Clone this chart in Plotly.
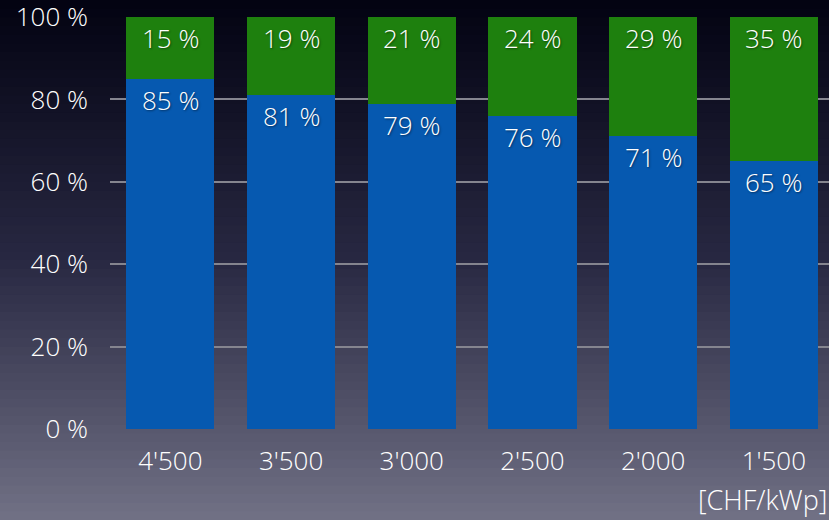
import plotly.graph_objects as go

categories = ["4'500", "3'500", "3'000", "2'500", "2'000", "1'500"]
blue_vals = [85, 81, 79, 76, 71, 65]
green_vals = [15, 19, 21, 24, 29, 35]
y_ticks = [0, 20, 40, 60, 80, 100]
y_tick_labels = ["0 %", "20 %", "40 %", "60 %", "80 %", "100 %"]

W, H = 829, 520
FONT = "Open Sans"
FS = 26
SHADOW = "1px 1px 2px rgba(0,0,0,0.45)"

fig = go.Figure()
fig.add_trace(go.Bar(
    x=categories, y=blue_vals,
    marker=dict(color="#0659b0", line=dict(width=0)),
    hoverinfo="skip",
))
fig.add_trace(go.Bar(
    x=categories, y=green_vals,
    marker=dict(color="#1e800e", line=dict(width=0)),
    hoverinfo="skip",
))

annotations = []
for cat, b, g in zip(categories, blue_vals, green_vals):
    for top, val in ((b, b), (b + g, g)):
        annotations.append(dict(
            x=cat, y=top, xref="x", yref="y", text=f"{val} %",
            showarrow=False, yanchor="middle", yshift=-21,
            font=dict(family=FONT, size=FS, color="white", weight=300,
                      shadow=SHADOW)))

# background vertical gradient built from thin bands
plot_top, plot_bot = 17, 429
ph = plot_bot - plot_top
top_c = (3, 3, 18)
mid_c = (40, 40, 66)
bot_c = (112, 112, 132)
shapes = []
n = 60
for i in range(n):
    t = i / (n - 1)
    if t < 0.5:
        u = t / 0.5
        c = [round(top_c[k] + (mid_c[k] - top_c[k]) * u) for k in range(3)]
    else:
        u = (t - 0.5) / 0.5
        c = [round(mid_c[k] + (bot_c[k] - mid_c[k]) * u) for k in range(3)]
    py0 = H * i / n
    py1 = H * (i + 1) / n + 1
    shapes.append(dict(type="rect", xref="paper", yref="paper",
                       x0=-0.2, x1=1.2,
                       y0=(plot_bot - py0) / ph, y1=(plot_bot - py1) / ph,
                       fillcolor=f"rgb({c[0]},{c[1]},{c[2]})",
                       line=dict(width=0), layer="below"))

annotations.append(dict(text="[CHF/kWp]", xref="paper", yref="paper",
                        x=1, y=-0.172, xanchor="right", yanchor="middle",
                        showarrow=False,
                        font=dict(family=FONT, size=FS + 1, color="white", weight=300)))

fig.update_layout(
    width=W, height=H,
    barmode="stack", bargap=0.27,
    showlegend=False,
    paper_bgcolor="#303048",
    plot_bgcolor="rgba(0,0,0,0)",
    margin=dict(l=110, r=0, t=17, b=91),
    font=dict(family=FONT, color="white", size=FS, weight=300),
    shapes=shapes,
    xaxis=dict(range=[-0.5, 5.457], showgrid=False, zeroline=False,
               showline=False, ticks="", automargin=False,
               tickfont=dict(family=FONT, size=FS, color="white", weight=300),
               ticklabelstandoff=14, ticklabeloverflow="allow", fixedrange=True),
    yaxis=dict(range=[0, 100], tickvals=y_ticks, ticktext=y_tick_labels,
               showgrid=True, gridcolor="#85858f", gridwidth=1.5,
               zeroline=False, showline=False, ticks="", automargin=False,
               tickfont=dict(family=FONT, size=FS, color="white", weight=300),
               ticklabelstandoff=21, ticklabeloverflow="allow", fixedrange=True),
    annotations=annotations,
)

fig.write_html("out.html", config={"displayModeBar": False})
